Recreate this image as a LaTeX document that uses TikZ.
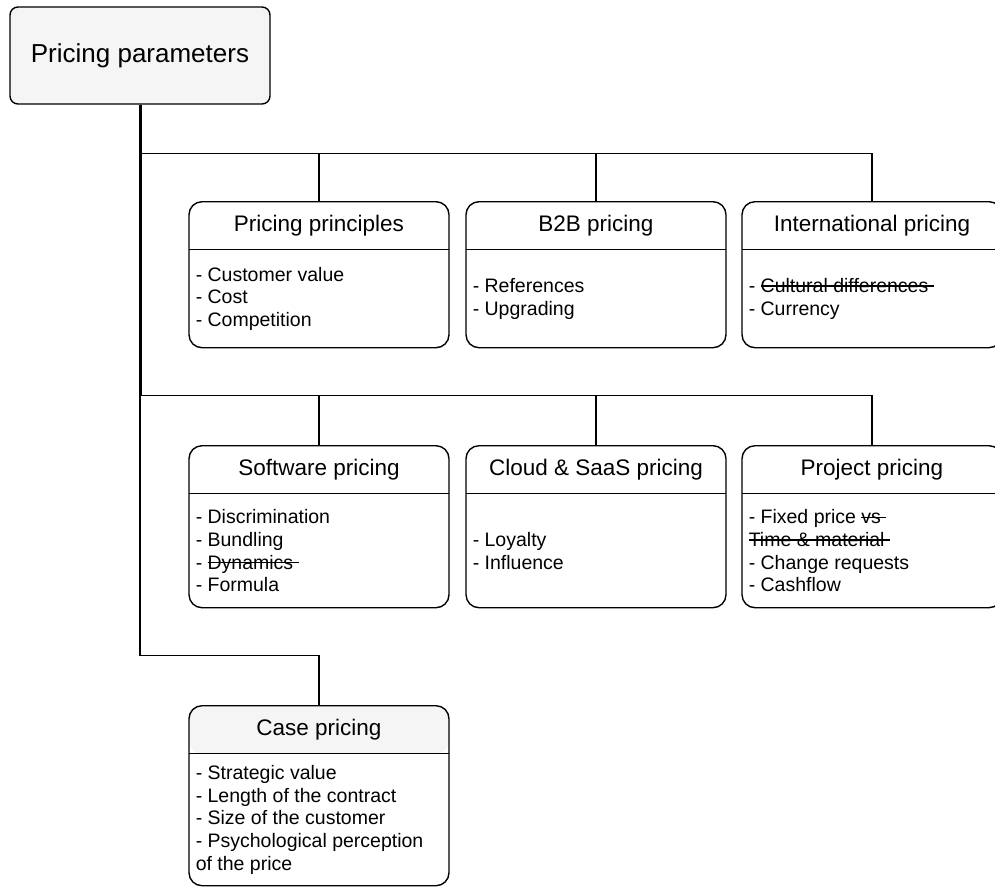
\documentclass[tikz,border=0pt]{standalone}
\usepackage{fontspec}
\setmainfont{Liberation Sans}
\usetikzlibrary{calc}

\definecolor{boxgray}{HTML}{F5F5F5}
\newcommand{\struck}[1]{\setbox0\hbox{#1}\rlap{\rule[0.3em]{\wd0}{0.07em}}\box0}

\tikzset{
	card/.style={draw, rounded corners=13pt, minimum width=260pt, line width=1.4pt, inner sep=0pt, anchor=north},
	head/.style={minimum width=260pt, minimum height=48pt, inner sep=0pt, anchor=north, font=\fontsize{22.5}{26}\selectfont},
	items/.style={align=left, anchor=west, inner sep=0pt, font=\fontsize{19.5}{22.6}\selectfont},
	shaded head/.style={path picture={\fill[boxgray] (path picture bounding box.north west) rectangle ([yshift=-48pt]path picture bounding box.north east);}},
	link/.style={line width=1.4pt},
	trunk/.style={line width=3pt},
}

\begin{document}
\begin{tikzpicture}[x=1pt, y=-1pt]
	\useasboundingbox (0,0) rectangle (995,887);

	\node[draw, fill=boxgray, rounded corners=8pt, line width=1.4pt, minimum width=260pt, minimum height=97pt, font=\fontsize{26}{30}\selectfont] (root) at (140,55.5) {Pricing parameters};

	% first row
	\node[card, minimum height=146pt] (princ) at (319,201) {};
	\node[head] (princ-h) at (princ.north) {Pricing principles};
	\node[items] (princ-b) at ($(princ-h.south west)!.5!(princ.south west)+(7,0)$) {- Customer value\\- Cost\\- Competition};

	\node[card, minimum height=146pt] (b2b) at (596,201) {};
	\node[head] (b2b-h) at (b2b.north) {B2B pricing};
	\node[items] (b2b-b) at ($(b2b-h.south west)!.5!(b2b.south west)+(7,0)$) {- References\\- Upgrading};

	\node[card, minimum height=146pt] (intl) at (872,201) {};
	\node[head] (intl-h) at (intl.north) {International pricing};
	\node[items] (intl-b) at ($(intl-h.south west)!.5!(intl.south west)+(7,0)$) {- \struck{Cultural differences\ }\\- Currency};

	% second row
	\node[card, minimum height=162pt] (soft) at (319,445) {};
	\node[head] (soft-h) at (soft.north) {Software pricing};
	\node[items] (soft-b) at ($(soft-h.south west)!.5!(soft.south west)+(7,0)$) {- Discrimination\\- Bundling\\- \struck{Dynamics\ }\\- Formula};

	\node[card, minimum height=162pt] (cloud) at (596,445) {};
	\node[head] (cloud-h) at (cloud.north) {Cloud \& SaaS pricing};
	\node[items] (cloud-b) at ($(cloud-h.south west)!.5!(cloud.south west)+(7,0)$) {- Loyalty\\- Influence};

	\node[card, minimum height=162pt] (proj) at (872,445) {};
	\node[head] (proj-h) at (proj.north) {Project pricing};
	\node[items] (proj-b) at ($(proj-h.south west)!.5!(proj.south west)+(7,0)$) {- Fixed price \struck{vs\ }\\\struck{Time \& material\ }\\- Change requests\\- Cashflow};

	% case
	\node[card, shaded head, minimum height=180pt] (case) at (319,705) {};
	\node[head] (case-h) at (case.north) {Case pricing};
	\node[items] (case-b) at ($(case-h.south west)!.5!(case.south west)+(7,0)$) {- Strategic value\\- Length of the contract\\- Size of the customer\\- Psychological perception\\of the price};

	\foreach \c in {princ, b2b, intl, soft, cloud, proj, case}
		\draw[link] (\c-h.south west) -- (\c-h.south east);

	% connectors
	\foreach \c in {princ, b2b, intl}
		\draw[link] (root.south) -- ++(0,49) -| (\c.north);
	\foreach \c in {soft, cloud, proj}
		\draw[link] (root.south) -- ++(0,291) -| (\c.north);
	\draw[link] (root.south) -- ++(0,551) -| (case.north);
	\draw[trunk] (root.south) -- ++(0,291);
\end{tikzpicture}
\end{document}
